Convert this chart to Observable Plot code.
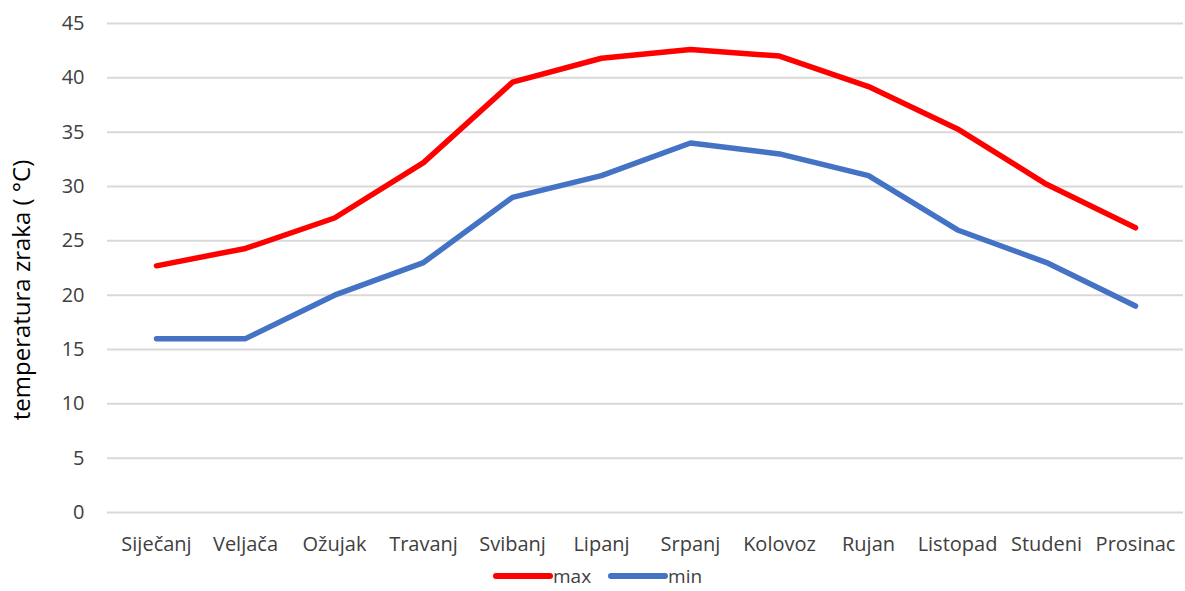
<!DOCTYPE html>
<html>
<head>
<meta charset="utf-8">
<script src="https://cdn.jsdelivr.net/npm/d3@7"></script>
<script src="https://cdn.jsdelivr.net/npm/@observablehq/plot@0.6"></script>
<style>
  html, body { margin: 0; padding: 0; background: #fff; }
  #wrap { position: relative; width: 1185px; height: 591px; overflow: hidden; font-family: "Open Sans", "Noto Sans", sans-serif; }
  #chart { position: absolute; left: 0; top: 0; }
  #legend { position: absolute; left: 493px; top: 566px; height: 20px; display: flex; align-items: center; font-size: 19px; line-height: 20px; color: #404040; }
  .item { display: flex; align-items: center; margin-right: 17px; }
  .sw { width: 60px; height: 6px; border-radius: 3px; margin-right: 0px; }
</style>
</head>
<body>
<div id="wrap">
  <div id="chart"></div>
  <div id="legend"></div>
</div>
<script>
const months = ["Siječanj","Veljača","Ožujak","Travanj","Svibanj","Lipanj","Srpanj","Kolovoz","Rujan","Listopad","Studeni","Prosinac"];
const maxValues = [22.7, 24.3, 27.1, 32.2, 39.6, 41.8, 42.6, 42.0, 39.2, 35.3, 30.2, 26.2];
const minValues = [16, 16, 20, 23, 29, 31, 34, 33, 31, 26, 23, 19];
const seriesNames = ["max", "min"];
const seriesColors = ["#FF0000", "#4472C4"];
const yTicks = [0, 5, 10, 15, 20, 25, 30, 35, 40, 45];
const yLabel = "temperatura zraka ( °C)";

const data = [];
months.forEach((m, i) => {
  data.push({month: m, series: "max", value: maxValues[i]});
  data.push({month: m, series: "min", value: minValues[i]});
});

const chart = Plot.plot({
  width: 1185,
  height: 565,
  marginLeft: 107,
  marginRight: 2,
  marginTop: 23,
  marginBottom: 53,
  style: {fontFamily: "'Open Sans', 'Noto Sans', sans-serif", fontSize: "20px", color: "#404040", background: "white", overflow: "visible"},
  x: {type: "point", domain: months, padding: 0.5, label: null},
  y: {domain: [0, 45], ticks: yTicks, label: null},
  color: {domain: seriesNames, range: seriesColors},
  marks: [
    Plot.gridY(yTicks, {stroke: "#D9D9D9", strokeOpacity: 1, strokeWidth: 2}),
    Plot.axisY({ticks: yTicks, tickSize: 0, tickPadding: 23, label: null, fontSize: 20}),
    Plot.axisX({tickSize: 0, tickPadding: 24, label: null, fontSize: 20}),
    Plot.text([yLabel], {frameAnchor: "left", dx: -95, dy: 22, rotate: -90, fontSize: 24, fill: "#000", lineAnchor: "top", textAnchor: "middle"}),
    Plot.lineY(data, {x: "month", y: "value", z: "series", stroke: "series", strokeWidth: 5.5, strokeLinecap: "round", strokeLinejoin: "round"})
  ]
});
document.getElementById("chart").appendChild(chart);

const legend = document.getElementById("legend");
seriesNames.forEach((n, i) => {
  const it = document.createElement("div");
  it.className = "item";
  const sw = document.createElement("div");
  sw.className = "sw";
  sw.style.background = seriesColors[i];
  const t = document.createElement("span");
  t.textContent = n;
  it.appendChild(sw);
  it.appendChild(t);
  legend.appendChild(it);
});
</script>
</body>
</html>
